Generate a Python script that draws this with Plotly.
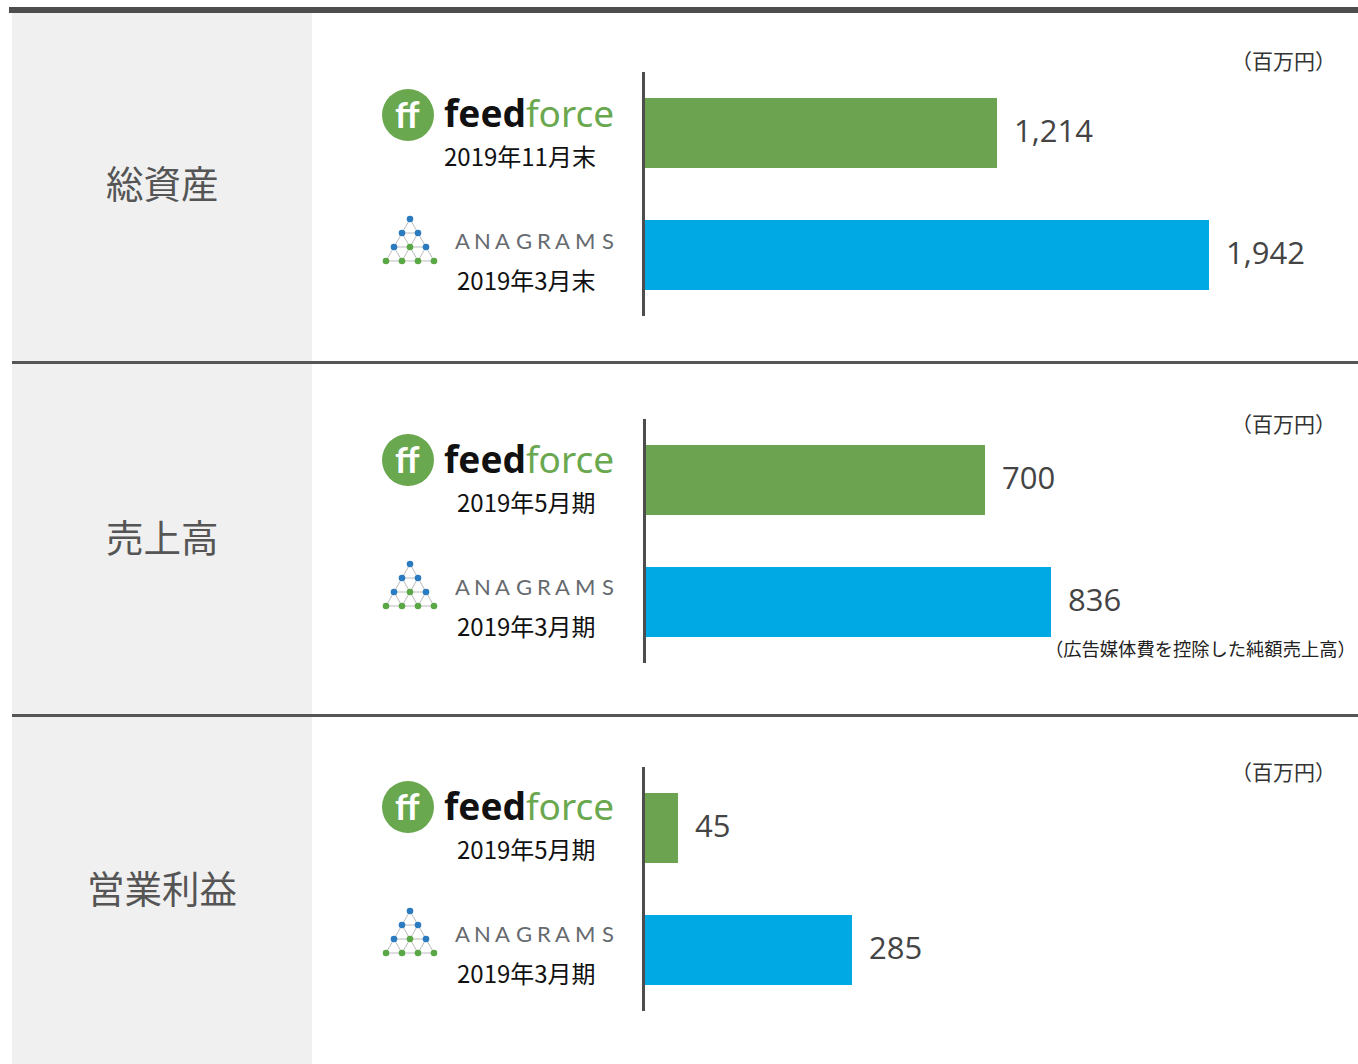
import plotly.graph_objects as go

W, H = 1358, 1064

# ---------------- data ----------------
metrics = ["総資産", "売上高", "営業利益"]
companies = ["feedforce", "ANAGRAMS"]
feedforce_values = [1214, 700, 45]
anagrams_values = [1942, 836, 285]
feedforce_periods = ["2019年11月末", "2019年5月期", "2019年5月期"]
anagrams_periods = ["2019年3月末", "2019年3月期", "2019年3月期"]
unit_label = "（百万円）"
note_label = "（広告媒体費を控除した純額売上高）"
x_max = [2457, 1470, 983]

GREEN = "#6ba350"
BLUE = "#00a9e3"
FF_GREEN = "#6aa84f"
JP = "Noto Sans CJK JP"


def px(x):
    return x / W


def py(y):
    return 1 - y / H


fig = go.Figure()
shapes = []
annotations = []

# panel geometry (pixels)
panel_axis_top = [72, 419, 767]
panel_axis_bottom = [316, 663, 1011]
panel_axis_left = [645, 646, 645]
logo_offset = [0, 345, 692]
label_y = [181, 535, 886]
band_ranges = [(13, 361), (364, 714), (717, 1064)]

# backgrounds
for (y0, y1) in band_ranges:
    shapes.append(dict(type="rect", xref="paper", yref="paper", x0=px(12), x1=px(312),
                       y0=py(y1), y1=py(y0), fillcolor="#f0f0f0", line_width=0, layer="below"))
shapes.append(dict(type="rect", xref="paper", yref="paper", x0=px(9), x1=1,
                   y0=py(13), y1=py(7), fillcolor="#4d4d4d", line_width=0))
for yy in (361, 714):
    shapes.append(dict(type="rect", xref="paper", yref="paper", x0=px(12), x1=1,
                       y0=py(yy + 3), y1=py(yy), fillcolor="#555555", line_width=0))

for i in range(3):
    sfx = "" if i == 0 else str(i + 1)
    xa, ya = "x" + sfx, "y" + sfx
    fig.add_trace(go.Bar(
        x=[feedforce_values[i], anagrams_values[i]], y=companies, orientation="h",
        marker=dict(color=[GREEN, BLUE], line_width=0), width=0.58,
        xaxis=xa, yaxis=ya, hoverinfo="skip", showlegend=False))
    fig.layout["xaxis" + sfx] = dict(domain=[px(panel_axis_left[i]), 1], range=[0, x_max[i]],
                                     visible=False, fixedrange=True)
    fig.layout["yaxis" + sfx] = dict(domain=[py(panel_axis_bottom[i]), py(panel_axis_top[i])],
                                     range=[1.5, -0.5], showline=True, linecolor="#4d4d4d",
                                     linewidth=3, showticklabels=False, showgrid=False,
                                     zeroline=False, ticks="", anchor=xa, fixedrange=True)
    # value labels
    for j, v in enumerate([feedforce_values[i], anagrams_values[i]]):
        annotations.append(dict(x=v, y=companies[j], xref=xa, yref=ya, text=f"{v:,}",
                                showarrow=False, xanchor="left", yanchor="middle", xshift=15, yshift=3,
                                font=dict(family="Open Sans", size=31, color="#444444")))
    # metric label
    annotations.append(dict(x=px(162), y=py(label_y[i]), xref="paper", yref="paper",
                            text=metrics[i], showarrow=False, xanchor="center", yanchor="middle",
                            font=dict(family=JP, size=37.5, color="#555555")))
    # unit label
    annotations.append(dict(x=px(1338), y=py(60 + [0, 363, 711][i]), xref="paper", yref="paper",
                            text=unit_label, showarrow=False, xanchor="right", yanchor="middle",
                            font=dict(family=JP, size=21, color="#333333")))

    o = logo_offset[i]
    # feedforce logo
    cx, cy = 408, 115 + o
    shapes.append(dict(type="circle", xref="paper", yref="paper", x0=px(cx - 26), x1=px(cx + 26),
                       y0=py(cy + 26), y1=py(cy - 26), fillcolor=FF_GREEN, line_width=0))
    annotations.append(dict(x=px(cx - 1), y=py(cy - 1), xref="paper", yref="paper",
                            text="<b>ff</b>", showarrow=False, xanchor="center", yanchor="middle",
                            font=dict(family="Lato", size=36, color="white")))
    annotations.append(dict(x=px(442), y=py(cy - 2), xref="paper", yref="paper",
                            text="<b>feed</b><span style='color:%s'>force</span>" % FF_GREEN,
                            showarrow=False, xanchor="left", yanchor="middle",
                            font=dict(family="Noto Sans", size=37, color="#111111")))
    annotations.append(dict(x=px(598), y=py(156 + o), xref="paper", yref="paper",
                            text=feedforce_periods[i], showarrow=False, xanchor="right", yanchor="middle",
                            font=dict(family=JP, size=24, color="#111111")))

    # ANAGRAMS logo: triangular lattice of dots
    top_x, top_y = 410, 219 + o
    dx, dy = 8, 14
    pts = []
    for r in range(4):
        row = []
        for k in range(r + 1):
            row.append((top_x - r * dx + k * 2 * dx, top_y + r * dy))
        pts.append(row)
    for r in range(4):
        for k in range(r + 1):
            x0, y0 = pts[r][k]
            if k < r:
                x1, y1 = pts[r][k + 1]
                shapes.append(dict(type="line", xref="paper", yref="paper", x0=px(x0), y0=py(y0),
                                   x1=px(x1), y1=py(y1), line=dict(color="#bbbbbb", width=1)))
            if r < 3:
                for kk in (k, k + 1):
                    x1, y1 = pts[r + 1][kk]
                    shapes.append(dict(type="line", xref="paper", yref="paper", x0=px(x0), y0=py(y0),
                                       x1=px(x1), y1=py(y1), line=dict(color="#bbbbbb", width=1)))
    dot_colors = [["#2b7bc0"], ["#2b7bc0", "#2b7bc0"], ["#2b7bc0", "#5aa845", "#2b7bc0"],
                  ["#5aa845"] * 4]
    for r in range(4):
        for k in range(r + 1):
            x0, y0 = pts[r][k]
            shapes.append(dict(type="circle", xref="paper", yref="paper", x0=px(x0 - 3.3), x1=px(x0 + 3.3),
                               y0=py(y0 + 3.3), y1=py(y0 - 3.3), fillcolor=dot_colors[r][k], line_width=0))
    letter_centers = [462.5, 482.5, 502.5, 523.5, 544, 562.5, 585, 607.5]
    for ch, lx in zip("ANAGRAMS", letter_centers):
        annotations.append(dict(x=px(lx), y=py(241 + o), xref="paper", yref="paper", text=ch,
                                showarrow=False, xanchor="center", yanchor="middle",
                                font=dict(family="Lato", size=22, color="#666a6e")))
    annotations.append(dict(x=px(598), y=py(280 + o), xref="paper", yref="paper",
                            text=anagrams_periods[i], showarrow=False, xanchor="right", yanchor="middle",
                            font=dict(family=JP, size=24, color="#111111")))

annotations.append(dict(x=1, y=py(648), xref="paper", yref="paper", text=note_label,
                        showarrow=False, xanchor="right", yanchor="middle",
                        font=dict(family=JP, size=18.3, color="#222222")))

fig.update_layout(width=W, height=H, margin=dict(l=0, r=0, t=0, b=0),
                  paper_bgcolor="white", plot_bgcolor="rgba(0,0,0,0)",
                  shapes=shapes, annotations=annotations, bargap=0)

fig.write_html("out.html", config={"displayModeBar": False},
               post_script="document.body.style.margin='0';document.body.style.overflow='hidden';")
